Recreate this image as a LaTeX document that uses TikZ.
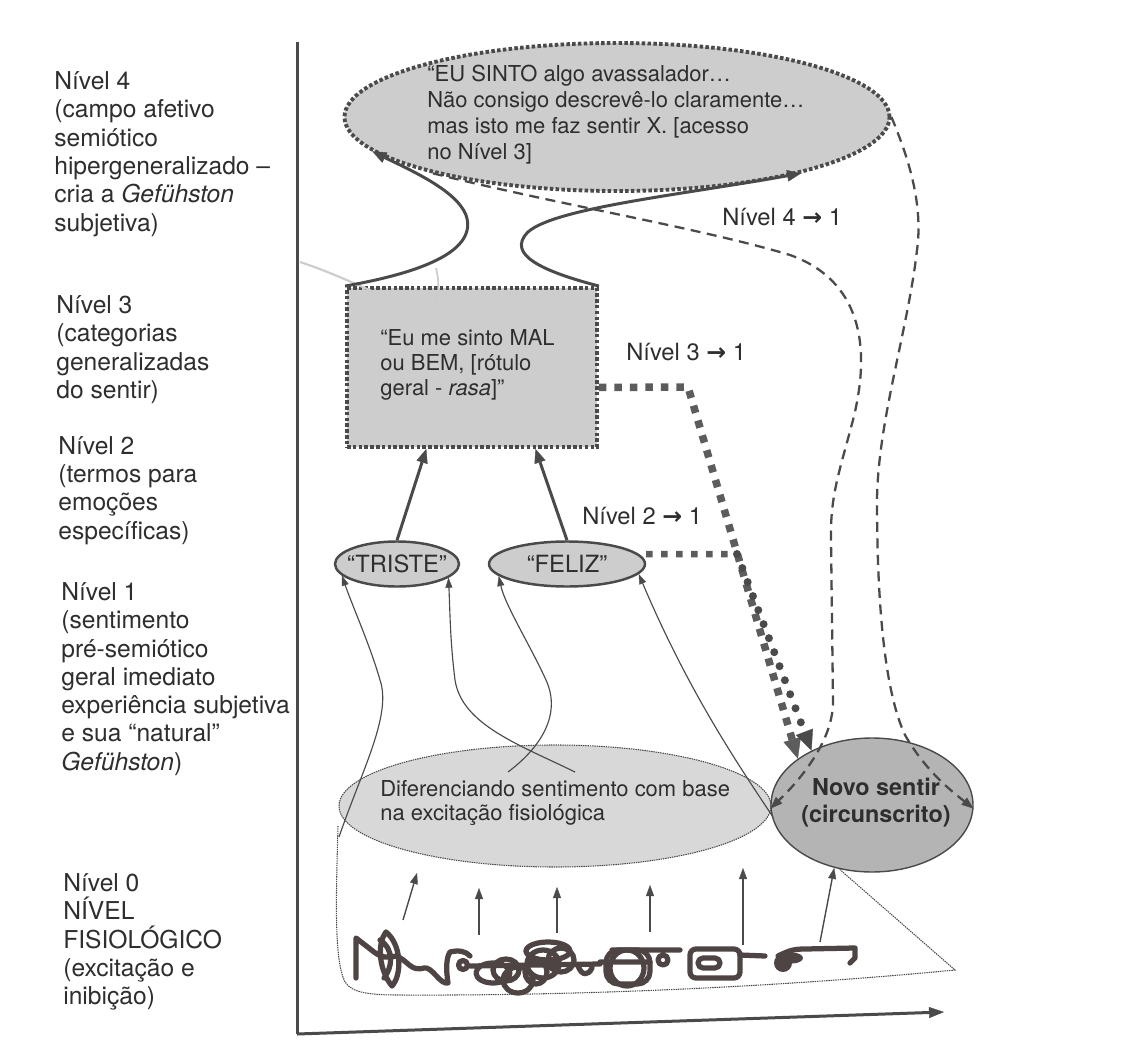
\documentclass[tikz,border=0pt]{standalone}
\usepackage{fontspec}
\setmainfont{TeX Gyre Heros}
\newfontfamily\arrowfont{DejaVu Sans}
\usetikzlibrary{arrows.meta,shapes.geometric,calc}
\definecolor{ink}{HTML}{2E2E2E}
\definecolor{linec}{HTML}{4A4A4A}
\definecolor{scrc}{HTML}{4E4444}
\definecolor{fillA}{HTML}{CDCDCD}
\definecolor{fillB}{HTML}{D8D8D8}
\definecolor{fillC}{HTML}{B4B4B4}
\begin{document}
\begin{tikzpicture}[x=0.2mm,y=-0.2mm,
  lvltext/.style={anchor=west,align=left,inner sep=0pt,text=ink,font=\fontsize{14}{16.1}\selectfont},
  intext/.style={anchor=west,align=left,inner sep=0pt,text=ink,font=\fontsize{12.5}{14.2}\selectfont},
  ovaltext/.style={inner sep=0pt,text=ink,font=\fontsize{13.5}{16}\selectfont},
  arrlab/.style={anchor=west,inner sep=0pt,text=ink,font=\fontsize{13.5}{16}\selectfont},
  dotbord/.style={draw=linec,line width=2.2pt,dash pattern=on 2pt off 1.3pt},
  finedot/.style={draw=linec,line width=0.6pt,dash pattern=on 0.8pt off 0.5pt},
  thickarr/.style={draw=linec,line width=1.7pt,-{Triangle[length=2.8mm,width=2.3mm,line width=0.2pt]}},
  thinarr/.style={draw=linec,line width=0.65pt,-{Triangle[length=2mm,width=1.4mm,line width=0.2pt]}},
  basearr/.style={draw=linec,line width=0.8pt,-{Triangle[length=2.2mm,width=1.6mm,line width=0.2pt]}},
  dsh/.style={draw=linec,line width=1.3pt,dash pattern=on 2mm off 1.3mm,-{Triangle[length=2.4mm,width=1.8mm,line width=0.2pt]}},
  sqdot/.style={draw=linec!90,line width=1.5mm,dash pattern=on 1.5mm off 1.6mm},
  sqdottwo/.style={draw=linec!90,line width=1.3mm,dash pattern=on 1.3mm off 1.7mm},
  rdot/.style={draw=linec,line width=1.6mm,line cap=round,dash pattern=on 0pt off 3mm},
  bighead/.style={-{Triangle[length=4mm,width=3.6mm,line width=0.2pt]}},
  scrib/.style={draw=scrc,line width=1.05mm,line join=round,line cap=round},
  axisline/.style={draw=linec,line width=0.6mm}
]
\useasboundingbox (0,0) rectangle (1140,1048);
\fill[white] (0,0) rectangle (1140,1048);

% ---------- axes ----------
\coordinate (ytop) at (297,42);
\coordinate (org) at (297,1034);
\coordinate (xend) at (944,1012);
\draw[axisline] (ytop) -- (org);
\draw[axisline,-{Triangle[length=3mm,width=2.2mm,line width=0.2pt]}] (org) -- (xend);

% ---------- left level labels ----------
\node[lvltext] (n4) at (54,154) {Nível 4\\(campo afetivo\\semiótico\\hipergeneralizado –\\cria a \textit{Gefühston}\\subjetiva)};
\node[lvltext] (n3) at (56,349.5) {Nível 3\\(categorias\\generalizadas\\do sentir)};
\node[lvltext] (n2) at (58,490.5) {Nível 2\\(termos para\\emoções\\específicas)};
\node[lvltext] (n1) at (61,679) {Nível 1\\(sentimento\\pré-semiótico\\geral imediato\\experiência subjetiva\\e sua “natural”\\\textit{Gefühston})};
\node[lvltext] (n0) at (63,942) {Nível 0\\NÍVEL\\FISIOLÓGICO\\(excitação e\\inibição)};

% ---------- shapes ----------
\node[ellipse,dotbord,fill=fillA,minimum width=109mm,minimum height=29.6mm,inner sep=0pt] (top) at (617,117) {};
\node[rectangle,dotbord,fill=fillA,minimum width=50mm,minimum height=31.8mm,inner sep=0pt] (rect) at (472,367.5) {};
\node[ellipse,draw=linec,line width=1.4pt,fill=fillA,minimum width=24.8mm,minimum height=9mm,inner sep=0pt] (triste) at (397,564) {};
\node[ellipse,draw=linec,line width=1.4pt,fill=fillA,minimum width=31.2mm,minimum height=9mm,inner sep=0pt] (feliz) at (567,564) {};
\node[ellipse,finedot,fill=fillB,minimum width=86.4mm,minimum height=24.4mm,inner sep=0pt] (big) at (555,806) {};
\node[ellipse,draw=linec,line width=0.8pt,fill=fillC,minimum width=40.4mm,minimum height=26.8mm,inner sep=0pt] (novo) at (872,805) {};

% ---------- container of level 0 ----------
\coordinate (cont) at (338,826);
\draw[finedot] (cont) .. controls (336,900) and (334,960) .. (345,982) .. controls (352,993) and (370,995) .. (400,995) .. controls (600,996) and (800,985) .. (955,970) -- (novo.-117);

% ---------- texts in shapes ----------
\node[intext,font=\fontsize{12.5}{14.9}\selectfont] (toptxt) at (427,114.5) {“EU SINTO algo avassalador…\\Não consigo descrevê-lo claramente…\\mas isto me faz sentir X. [acesso\\no Nível 3]};
\node[intext] (recttxt) at (380,365) {“Eu me sinto MAL\\ou BEM, [rótulo\\geral - \textit{rasa}]”};
\node[ovaltext] (tristetxt) at (triste) {“TRISTE”};
\node[ovaltext] (feliztxt) at (feliz) {“FELIZ”};
\node[intext] (bigtxt) at (380,803) {Diferenciando sentimento com base\\na excitação fisiológica};
\node[inner sep=0pt,align=center,text=ink,font=\fontsize{13.3}{15.3}\selectfont\bfseries] (novotxt) at (876,803) {Novo sentir\\(circunscrito)};

% ---------- level arrow labels ----------
\node[arrlab] (l41) at (722,217) {Nível 4 {\arrowfont\bfseries →} 1};
\node[arrlab] (l31) at (626,352) {Nível 3 {\arrowfont\bfseries →} 1};
\node[arrlab] (l21) at (582,516) {Nível 2 {\arrowfont\bfseries →} 1};

% ---------- scan artefact (fibre) ----------
\draw[gray!40,line width=1.2pt] (300,262) .. controls (340,275) and (390,300) .. (418,312);
\draw[gray!40,line width=1pt] (436,268) .. controls (440,285) and (440,300) .. (428,314);

% ---------- level 3 -> level 4 ----------
\draw[thickarr] (rect.north west) .. controls (425,272) and (478,250) .. (466,215) .. controls (456,190) and (410,170) .. (top.-172);
\draw[thickarr] (rect.north east) .. controls (545,272) and (505,255) .. (528,232) .. controls (555,208) and (680,195) .. (top.-17);

% ---------- level 2 -> level 3 ----------
\draw[thickarr] (triste.north) -- ($(rect.south west)!0.32!(rect.south east)$);
\draw[thickarr] (feliz.north) -- ($(rect.south west)!0.75!(rect.south east)$);

% ---------- level 1 -> level 2 ----------
\coordinate (s1) at (339,837);
\coordinate (s2) at (575,772);
\coordinate (s3) at (508,772);
\coordinate (s4) at (773,817);
\draw[thinarr] (s1) .. controls (362,770) and (392,715) .. (380,680) .. controls (370,645) and (352,605) .. (triste.-168);
\draw[thinarr] (s2) .. controls (520,745) and (462,725) .. (455,680) .. controls (450,640) and (450,610) .. (triste.-15);
\draw[thinarr] (s3) .. controls (540,748) and (562,715) .. (546,680) .. controls (530,645) and (505,605) .. (feliz.-170);
\draw[thinarr] (s4) .. controls (735,760) and (688,690) .. (feliz.-8);

% ---------- level 0 -> level 1 ----------
\coordinate (b1) at (403,920); \coordinate (t1) at (417,873);
\coordinate (b2) at (479,935); \coordinate (t2) at (479,888);
\coordinate (b3) at (557,933); \coordinate (t3) at (557,887);
\coordinate (b4) at (650,932); \coordinate (t4) at (650,885);
\coordinate (b5) at (743,945); \coordinate (t5) at (743,868);
\coordinate (b6) at (820,942);
\draw[basearr] (b1) -- (t1);
\draw[basearr] (b2) -- (t2);
\draw[basearr] (b3) -- (t3);
\draw[basearr] (b4) -- (t4);
\draw[basearr] (b5) -- (t5);
\draw[basearr] (b6) -- (novo.-121);

% ---------- level 3 -> 1 and level 2 -> 1 ----------
\coordinate (c3) at (688,387);
\draw[sqdot,bighead] ([yshift=-4mm]rect.east) -- (c3) -- (novo.148);
\coordinate (c2) at (737,554);
\draw[sqdottwo] ([yshift=2mm]feliz.east) -- (c2);
\draw[rdot,bighead] (c2) -- (novo.138);

% ---------- level 4 -> 1 ----------
\draw[dsh] (top.-163) .. controls (560,205) and (700,228) .. (790,255) .. controls (860,280) and (872,345) .. (853,420) .. controls (840,470) and (830,495) .. (831,540) -- (833,700) .. controls (834,740) and (800,780) .. (novo.-178);
\draw[dsh] (top.east) .. controls (905,150) and (924,200) .. (917,250) .. controls (908,330) and (878,420) .. (877,500) .. controls (877,600) and (884,690) .. (905,735) .. controls (925,770) and (950,790) .. (novo.-2);

% ---------- physiological scribble ----------
\draw[scrib]
 (356,978) -- (356,938) -- (374,952) .. controls (382,958) and (388,958) .. (396,956)
 (386,932) .. controls (402,945) and (402,975) .. (392,986) .. controls (380,972) and (376,945) .. (386,932)
 (380,940) .. controls (395,950) and (392,968) .. (384,978)
 (396,956) .. controls (408,960) and (410,972) .. (424,968) .. controls (432,966) and (440,985) .. (448,983) .. controls (446,970) and (446,958) .. (450,952) .. controls (458,950) and (466,951) .. (470,956)
 (463,965) circle[radius=0.9mm]
 (493,973) ellipse [x radius=3.4mm, y radius=2mm]
 (518,980) ellipse [x radius=3mm, y radius=2.6mm]
 (506,970) ellipse [x radius=2.6mm, y radius=2.2mm]
 (543,964) ellipse [x radius=3.2mm, y radius=2.8mm]
 (561,960) ellipse [x radius=2.6mm, y radius=2.4mm]
 (548,951) ellipse [x radius=4.4mm, y radius=1.8mm]
 (536,972) ellipse [x radius=2.2mm, y radius=2.4mm]
 (470,966) -- (600,964)
 (578,966) .. controls (582,976) and (588,976) .. (592,968)
 (627,968) ellipse [x radius=3.4mm, y radius=3.6mm]
 (600,962) -- (650,962)
 (612,950) -- (680,950)
 (663,960) circle[radius=1mm]
 (740,955) -- (765,956)
 (778,956) .. controls (790,950) and (795,949) .. (805,949) -- (855,948) -- (855,958) -- (850,963);
\draw[scrib,rounded corners=2.5mm] (606,950) -- (650,950) -- (650,984) -- (606,984) -- cycle;
\draw[scrib,rounded corners=1.2mm] (690,949) -- (740,949) -- (740,978) -- (690,978) -- cycle;
\draw[scrib,rounded corners=1mm] (698,958) -- (720,958) -- (720,968) -- (698,968) -- cycle;
\fill[scrc] (783,963) circle[radius=1.8mm];
\fill[scrc] (792,958) ellipse [x radius=2.2mm, y radius=1.1mm];
\end{tikzpicture}
\end{document}
